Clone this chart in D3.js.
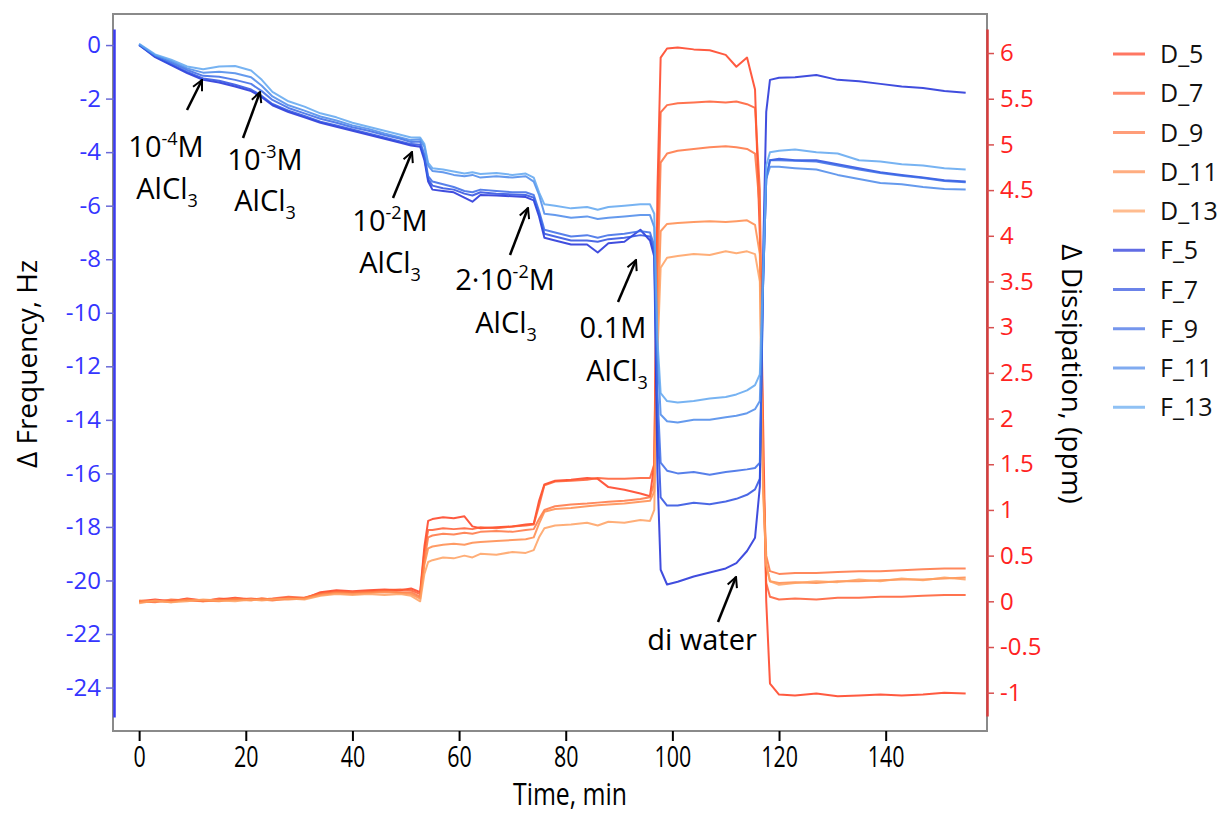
<!DOCTYPE html>
<html>
<head>
<meta charset="utf-8">
<script src="https://cdn.jsdelivr.net/npm/d3@7"></script>
<style>
body { margin: 0; background: #fff; }
text { font-family: "Open Sans", "Noto Sans", sans-serif; }
</style>
</head>
<body>
<svg id="chart" width="1228" height="818"></svg>
<script>
// time axis (min)
var time = [0,3,6,9,12,15,18,21,23,25,28,31,34,37,40,43,46,49,51,52.7,
  53.5,54.2,55,57,59,61,62.5,64,67,70,72.5,74,75,76,78,81,84,86,88,91,
  94,95.8,96.6,97.2,97.8,99,101,104,107,110,112,114,115.5,116.4,117,117.6,118.3,120,123,127,
  131,135,139,143,147,151,155];

// frequency shifts, Hz (left axis)
var f5 = [0,-0.45,-0.75,-1.05,-1.3,-1.4,-1.55,-1.72,-1.95,-2.25,-2.5,-2.7,-2.9,-3.05,-3.2,-3.35,-3.5,-3.65,-3.75,-3.8,
  -4.3,-5.1,-5.4,-5.45,-5.5,-5.7,-5.85,-5.6,-5.62,-5.65,-5.68,
  -5.8,-6.4,-7.2,-7.3,-7.45,-7.45,-7.75,-7.4,-7.35,-6.9,
  -7.3,-7.9,-16.0,-19.6,-20.15,-20.05,-19.85,-19.7,-19.55,-19.35,
  -18.9,-18.4,-16.5,-8.0,-2.5,-1.3,-1.22,-1.2,-1.12,-1.3,
  -1.35,-1.45,-1.55,-1.6,-1.72,-1.78];
var f7 = [0,-0.42,-0.72,-1.0,-1.25,-1.33,-1.48,-1.66,-1.9,-2.2,-2.45,-2.65,-2.86,-3.0,-3.15,-3.3,-3.45,-3.6,-3.7,-3.72,
  -4.2,-5.0,-5.25,-5.35,-5.4,-5.55,-5.62,-5.5,-5.55,-5.58,-5.6,
  -5.7,-6.3,-7.05,-7.15,-7.3,-7.3,-7.35,-7.25,-7.2,-7.1,
  -7.15,-7.7,-14.0,-16.9,-17.2,-17.2,-17.1,-17.15,-17.05,-16.95,
  -16.8,-16.6,-16.2,-9.0,-5.0,-4.3,-4.25,-4.3,-4.3,-4.45,
  -4.6,-4.75,-4.85,-4.95,-5.05,-5.1];
var f9 = [0.02,-0.4,-0.66,-0.93,-1.15,-1.18,-1.3,-1.45,-1.72,-2.05,-2.35,-2.55,-2.75,-2.9,-3.07,-3.2,-3.36,-3.5,-3.62,-3.6,
  -4.1,-4.9,-5.1,-5.2,-5.3,-5.45,-5.5,-5.4,-5.45,-5.5,-5.5,
  -5.6,-6.2,-6.9,-7.0,-7.15,-7.1,-7.2,-7.1,-7.05,-6.95,
  -7.0,-7.5,-13.0,-15.6,-15.9,-16.0,-15.95,-16.05,-15.95,-15.9,
  -15.85,-15.8,-15.6,-9.0,-5.0,-4.3,-4.3,-4.32,-4.35,-4.5,
  -4.65,-4.78,-4.88,-4.97,-5.08,-5.12];
var f11 = [0.03,-0.38,-0.6,-0.87,-1.03,-1.0,-1.05,-1.2,-1.52,-1.92,-2.25,-2.45,-2.67,-2.82,-3.0,-3.13,-3.3,-3.45,-3.55,-3.52,
  -3.8,-4.5,-4.7,-4.75,-4.85,-4.9,-4.85,-4.95,-4.9,-4.95,-4.9,
  -5.1,-5.6,-6.3,-6.35,-6.45,-6.4,-6.5,-6.45,-6.4,-6.35,
  -6.35,-6.8,-11.5,-13.8,-14.05,-14.1,-14.0,-14.0,-13.9,-13.85,
  -13.75,-13.6,-13.3,-9.0,-5.0,-4.55,-4.55,-4.6,-4.65,-4.85,
  -5.0,-5.15,-5.2,-5.3,-5.38,-5.4];
var f13 = [0.05,-0.35,-0.55,-0.8,-0.9,-0.8,-0.78,-0.95,-1.3,-1.75,-2.1,-2.3,-2.55,-2.7,-2.9,-3.05,-3.2,-3.35,-3.45,-3.45,
  -3.7,-4.4,-4.6,-4.65,-4.72,-4.8,-4.75,-4.82,-4.78,-4.85,-4.8,
  -4.95,-5.5,-5.95,-6.0,-6.1,-6.05,-6.15,-6.05,-6.0,-5.95,
  -5.95,-6.3,-11.0,-13.0,-13.3,-13.35,-13.3,-13.2,-13.15,-13.05,
  -12.9,-12.7,-12.3,-8.5,-4.5,-4.0,-3.95,-3.9,-4.0,-4.05,
  -4.3,-4.35,-4.45,-4.5,-4.6,-4.65];

// dissipation shifts, ppm (right axis)
var d5 = [0.0,0.02,0.0,0.03,0.01,0.02,0.04,0.02,0.03,0.02,0.04,0.03,0.1,0.12,0.11,0.12,0.13,0.12,0.14,0.1,
  0.6,0.88,0.9,0.92,0.91,0.93,0.82,0.8,0.81,0.82,0.84,
  0.85,1.1,1.28,1.32,1.33,1.35,1.34,1.25,1.22,1.18,
  1.15,1.5,4.5,5.95,6.05,6.06,6.04,6.03,5.98,5.85,
  5.95,5.6,4.0,2.0,0.0,-0.9,-1.02,-1.03,-1.01,-1.04,
  -1.03,-1.02,-1.03,-1.02,-1.0,-1.01];
var d7 = [-0.01,0.0,0.01,0.02,0.0,0.03,0.02,0.03,0.02,0.03,0.05,0.04,0.09,0.11,0.1,0.11,0.12,0.13,0.12,0.08,
  0.55,0.78,0.78,0.8,0.79,0.8,0.79,0.81,0.8,0.82,0.83,
  0.84,1.05,1.27,1.31,1.32,1.33,1.35,1.34,1.34,1.35,
  1.35,1.5,4.0,5.35,5.43,5.45,5.46,5.47,5.46,5.47,
  5.44,5.4,4.5,1.5,0.2,0.05,0.02,0.03,0.02,0.04,
  0.04,0.05,0.05,0.06,0.07,0.07];
var d9 = [0.0,-0.01,0.02,0.01,0.0,0.01,0.03,0.02,0.02,0.01,0.03,0.04,0.08,0.1,0.1,0.1,0.11,0.1,0.1,0.05,
  0.45,0.7,0.72,0.74,0.73,0.75,0.74,0.76,0.77,0.76,0.78,
  0.79,0.9,1.0,1.04,1.06,1.07,1.08,1.09,1.1,1.12,
  1.14,1.3,3.5,4.8,4.9,4.93,4.95,4.97,4.98,4.97,
  4.95,4.9,4.3,1.4,0.5,0.33,0.3,0.31,0.31,0.32,
  0.33,0.33,0.34,0.35,0.36,0.36];
var d11 = [0.01,0.0,-0.01,0.02,0.01,0.0,0.02,0.01,0.03,0.02,0.02,0.03,0.07,0.09,0.08,0.09,0.1,0.09,0.08,0.03,
  0.4,0.58,0.6,0.62,0.63,0.62,0.64,0.65,0.66,0.67,0.68,
  0.7,0.85,0.98,1.01,1.02,1.04,1.05,1.06,1.07,1.09,
  1.1,1.2,3.0,4.05,4.13,4.14,4.15,4.16,4.15,4.16,
  4.17,4.12,3.8,1.3,0.4,0.22,0.2,0.21,0.2,0.22,
  0.22,0.23,0.24,0.24,0.25,0.26];
var d13 = [-0.02,0.01,-0.01,0.0,0.02,0.01,0.0,0.02,0.01,0.02,0.03,0.02,0.06,0.08,0.07,0.08,0.07,0.08,0.06,0.0,
  0.3,0.43,0.45,0.48,0.47,0.5,0.48,0.52,0.51,0.54,0.53,
  0.56,0.7,0.8,0.83,0.84,0.86,0.83,0.87,0.86,0.89,
  0.88,1.0,2.7,3.65,3.76,3.78,3.8,3.79,3.83,3.81,
  3.83,3.8,3.5,1.2,0.4,0.22,0.18,0.2,0.22,0.21,
  0.24,0.22,0.25,0.23,0.26,0.24];

var seriesNames = ["D_5","D_7","D_9","D_11","D_13","F_5","F_7","F_9","F_11","F_13"];
var seriesValues = [d5, d7, d9, d11, d13, f5, f7, f9, f11, f13];
var seriesColors = ["#ff3d1f","#ff5a30","#ff7340","#ff8a4a","#ffa060",
                    "#1e2ed8","#2c4ee0","#3a6ae6","#4a88ea","#5fa6f0"];

var freqTicks = d3.range(-24, 1, 2);
var dissTicks = [-1,-0.5,0,0.5,1,1.5,2,2.5,3,3.5,4,4.5,5,5.5,6];
var timeTicks = [0,20,40,60,80,100,120,140];

// annotations: concentration label, its position and the arrow
var notes = [
  {sup: ["10","-4","M"], x: 166, y: 157, arrow: [187,110,202,80]},
  {sup: ["10","-3","M"], x: 265, y: 170, arrow: [243,138,260,92]},
  {sup: ["10","-2","M"], x: 390, y: 231, arrow: [393,198,412,152]},
  {sup: ["2·10","-2","M"], x: 505, y: 290, arrow: [510,255,528,208]},
  {sup: ["0.1M","",""], x: 613, y: 338, arrow: [618,302,636,260]}
];
var salt = [{x: 167, y: 199}, {x: 265, y: 211}, {x: 390, y: 273}, {x: 506, y: 333}, {x: 617, y: 381}];

var svg = d3.select("#chart");

var x = d3.scaleLinear().domain([-4.9, 159]).range([113, 987]);
var yF = d3.scaleLinear().domain([-25.1, 0.6]).range([717, 29]);
var yD = d3.scaleLinear().domain([-1.255, 6.263]).range([716, 29]);

// frame
svg.append("rect")
  .attr("x", 113).attr("y", 14).attr("width", 874).attr("height", 717)
  .attr("fill", "none").attr("stroke", "#8a8a8a").attr("stroke-width", 2);

// DRAW LINES (dissipation first, frequency on top)
seriesNames.forEach(function (name, i) {
  var isD = name.charAt(0) == "D";
  var yy = isD ? yD : yF;
  var line = d3.line()
    .x(function (d, j) { return x(time[j]); })
    .y(function (d) { return yy(d); });
  svg.append("path")
    .datum(seriesValues[i])
    .attr("d", line)
    .attr("fill", "none")
    .attr("stroke", seriesColors[i])
    .attr("stroke-width", 2)
    .attr("stroke-opacity", 0.85)
    .attr("stroke-linejoin", "round");
});

// LEFT AXIS
var gL = svg.append("g").attr("transform", "translate(114,0)")
  .call(d3.axisLeft(yF).tickValues(freqTicks).tickSize(8).tickSizeOuter(0).tickPadding(5)
    .tickFormat(function (d) { return String(d); }));
gL.select(".domain").attr("stroke", "#3b3bf0").attr("stroke-width", 2.5);
gL.selectAll(".tick line").attr("stroke", "#6a6ad8").attr("stroke-width", 1.5);
gL.selectAll(".tick text").attr("fill", "#3535ff").style("font-size", "24px")
  .style("font-family", "'Open Sans', sans-serif");

// RIGHT AXIS
var gR = svg.append("g").attr("transform", "translate(987,0)")
  .call(d3.axisRight(yD).tickValues(dissTicks).tickSize(7).tickSizeOuter(0).tickPadding(6)
    .tickFormat(function (d) { return String(d); }));
gR.select(".domain").attr("stroke", "#d83c3c").attr("stroke-width", 2.5);
gR.selectAll(".tick line").attr("stroke", "#d85050").attr("stroke-width", 1.5);
gR.selectAll(".tick text").attr("fill", "#ff2222").style("font-size", "24px")
  .style("font-family", "'Open Sans', sans-serif");

// BOTTOM AXIS
var gB = svg.append("g").attr("transform", "translate(0,731)")
  .call(d3.axisBottom(x).tickValues(timeTicks).tickSize(10).tickSizeOuter(0).tickPadding(5));
gB.select(".domain").remove();
gB.selectAll(".tick line").attr("stroke", "#000").attr("stroke-width", 2);
gB.selectAll(".tick text").attr("fill", "#000").style("font-size", "29px")
  .style("font-family", "'Open Sans', sans-serif")
  .attr("transform", "scale(0.74,1)");

// axis titles
svg.append("text")
  .attr("transform", "translate(570,805) scale(0.8,1)")
  .attr("text-anchor", "middle")
  .style("font-size", "31px").attr("fill", "#000")
  .text("Time, min");

svg.append("text")
  .attr("transform", "translate(37,364) rotate(-90)")
  .attr("text-anchor", "middle")
  .style("font-size", "28px").attr("fill", "#000")
  .text("Δ Frequency, Hz");

svg.append("text")
  .attr("transform", "translate(1062,374) rotate(90)")
  .attr("text-anchor", "middle")
  .style("font-size", "28px").attr("fill", "#000")
  .text("Δ Dissipation, (ppm)");

// LEGEND
seriesNames.forEach(function (name, i) {
  var ly = 54 + i * 39.25;
  svg.append("line")
    .attr("x1", 1113).attr("x2", 1145).attr("y1", ly).attr("y2", ly)
    .attr("stroke", seriesColors[i]).attr("stroke-width", 3).attr("stroke-opacity", 0.7);
  svg.append("text")
    .attr("x", 1160).attr("y", ly + 9)
    .style("font-size", "25px").attr("fill", "#111")
    .text(name);
});

// ANNOTATIONS
svg.append("defs").append("marker")
  .attr("id", "head").attr("viewBox", "0 0 10 10")
  .attr("refX", 9).attr("refY", 5)
  .attr("markerWidth", 5).attr("markerHeight", 5)
  .attr("orient", "auto")
  .append("path").attr("d", "M1,1 L9,5 L1,9")
  .attr("fill", "none").attr("stroke", "#000").attr("stroke-width", 1.6);

notes.forEach(function (n, i) {
  var t = svg.append("text")
    .attr("x", n.x).attr("y", n.y)
    .attr("text-anchor", "middle")
    .style("font-size", "29px").attr("fill", "#000");
  t.append("tspan").text(n.sup[0]);
  if (n.sup[1] != "") {
    t.append("tspan").attr("dy", -12).style("font-size", "18px").text(n.sup[1]);
    t.append("tspan").attr("dy", 12).text(n.sup[2]);
  }
  var s = svg.append("text")
    .attr("x", salt[i].x).attr("y", salt[i].y)
    .attr("text-anchor", "middle")
    .style("font-size", "29px").attr("fill", "#000");
  s.append("tspan").text("AlCl");
  s.append("tspan").attr("dy", 8).style("font-size", "18px").text("3");

  svg.append("line")
    .attr("x1", n.arrow[0]).attr("y1", n.arrow[1])
    .attr("x2", n.arrow[2]).attr("y2", n.arrow[3])
    .attr("stroke", "#000").attr("stroke-width", 2.5)
    .attr("marker-end", "url(#head)");
});

// di water
svg.append("text")
  .attr("x", 702).attr("y", 650)
  .attr("text-anchor", "middle")
  .style("font-size", "29px").attr("fill", "#000")
  .text("di water");
svg.append("line")
  .attr("x1", 718).attr("y1", 622).attr("x2", 736).attr("y2", 577)
  .attr("stroke", "#000").attr("stroke-width", 2.5)
  .attr("marker-end", "url(#head)");
</script>
</body>
</html>
